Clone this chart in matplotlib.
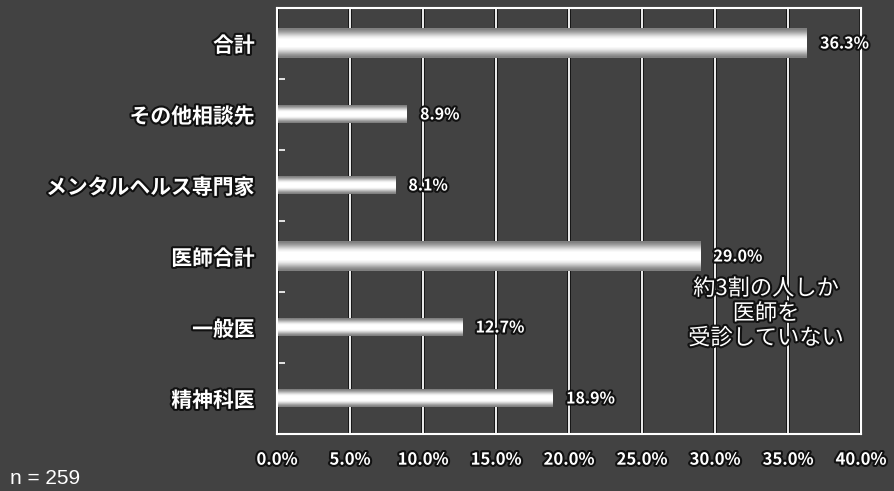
import matplotlib
matplotlib.use("Agg")
from matplotlib import pyplot as plt
import matplotlib.patheffects as pe
import numpy as np

plt.rcParams['font.family'] = ['Noto Sans CJK JP', 'DejaVu Sans']

categories = ["合計", "その他相談先", "メンタルヘルス専門家", "医師合計", "一般医", "精神科医"]
values = [36.3, 8.9, 8.1, 29.0, 12.7, 18.9]
is_total = [True, False, False, True, False, False]
xticks = [0, 5, 10, 15, 20, 25, 30, 35, 40]
note = "約3割の人しか\n医師を\n受診していない"
sample = "n = 259"

bg = "#424242"
outline = [pe.withStroke(linewidth=3, foreground="#111111")]

fig = plt.figure(figsize=(8.95, 4.91), dpi=100, facecolor=bg)
ax = fig.add_axes([277/895, 57/491, 584/895, 426/491])
ax.set_facecolor(bg)

# vertical gradient for the bars: grey edges, white middle
grad = np.array([0.5, 0.62, 0.78, 0.92, 1, 1, 1, 1, 0.92, 0.78, 0.62, 0.5]).reshape(-1, 1)

for i, (v, tot) in enumerate(zip(values, is_total)):
    h = 0.42 if tot else 0.25
    ax.imshow(grad, cmap="gray", vmin=0, vmax=1, aspect="auto",
              extent=(0, v, i + h/2, i - h/2), zorder=3, interpolation="bilinear")
    ax.text(v + 0.9, i, f"{v:.1f}%", color="white", fontsize=11.5, fontweight="bold",
            va="center", ha="left", zorder=5, path_effects=outline)

ax.set_xlim(0, 40)
ax.set_ylim(len(categories) - 0.5, -0.5)

for x in xticks:
    ax.axvline(x, color="white", lw=1.3, zorder=2,
               path_effects=[pe.withStroke(linewidth=2.8, foreground="#151515")])

ax.set_xticks(xticks)
ax.set_xticklabels([f"{x:.1f}%" for x in xticks])
ax.set_yticks(range(len(categories)))
ax.set_yticklabels(categories)
ax.set_yticks(np.arange(0.5, len(categories) - 0.5, 1), minor=True)

ax.tick_params(axis="x", length=0, pad=12, labelsize=12, labelcolor="white")
ax.tick_params(axis="y", which="major", length=0, pad=16, labelsize=15, labelcolor="white")
ax.tick_params(axis="y", which="minor", direction="in", length=6, color="white", width=1.2)
for lab in ax.get_xticklabels() + ax.get_yticklabels():
    lab.set_fontweight("bold")
    lab.set_path_effects(outline)

for s in ax.spines.values():
    s.set_color("white")
    s.set_linewidth(1.5)
    s.set_zorder(4)

ax.text(33.5, 3.8, note, color="white", fontsize=16, ha="center", va="center",
        linespacing=1.1, zorder=6,
        path_effects=[pe.withStroke(linewidth=3, foreground="#111111")])

fig.text(10/895, 1 - 478/491, sample, color="white", fontsize=15, ha="left", va="center",
         family="Liberation Sans")

fig.savefig("out.png", dpi=100, facecolor=bg)
